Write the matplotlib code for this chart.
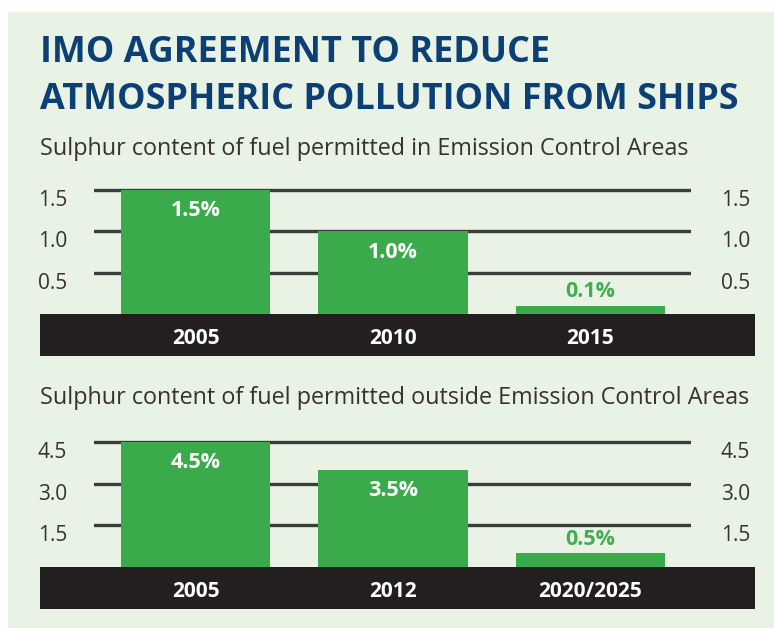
import matplotlib
matplotlib.use("Agg")
import matplotlib.pyplot as plt
from matplotlib.patches import Rectangle

# data
eca_years = ["2005", "2010", "2015"]
eca_values = [1.5, 1.0, 0.1]
eca_ticks = [0.5, 1.0, 1.5]

global_years = ["2005", "2012", "2020/2025"]
global_values = [4.5, 3.5, 0.5]
global_ticks = [1.5, 3.0, 4.5]

W, H = 774, 628
BG = "#e8f2e5"
GREEN = "#3aaa4a"
LABEL_GREEN = "#44ad4f"
DARK = "#231f20"
NAVY = "#0c3f73"
TEXT = "#3a302c"
GRID = "#3c3c3c"
FONT = ["Open Sans", "DejaVu Sans"]

plt.rcParams["font.family"] = FONT

fig = plt.figure(figsize=(W / 100, H / 100), dpi=100, facecolor="white")

# light green panel
fig.patches.append(Rectangle((8 / W, 0), 1 - 8 / W, 1 - 12 / H,
                             transform=fig.transFigure, facecolor=BG,
                             edgecolor="none", zorder=-2))


def px_axes(left, top, right, bottom):
    """axes from pixel box (top-left origin)"""
    return fig.add_axes([left / W, 1 - bottom / H, (right - left) / W, (bottom - top) / H])


def draw_panel(top, zero, full_px, vmax, years, values, ticks):
    ax = px_axes(94, top, 691, zero)
    ax.set_zorder(2)
    ymax = (zero - top) / (zero - full_px) * vmax
    x = range(len(years))
    ax.bar(x, values, width=0.755, color=GREEN, zorder=3)
    ax.set_xlim(-0.514, 2.509)
    ax.set_ylim(0, ymax)
    ax.set_facecolor("none")
    for s in ax.spines.values():
        s.set_visible(False)

    # gridlines + left labels
    tick_labels = [f"{t:.1f}" for t in ticks]
    ax.set_yticks(ticks, tick_labels)
    ax.yaxis.grid(True, color=GRID, linewidth=2.4)
    ax.set_axisbelow(True)
    ax.tick_params(axis="y", length=0, labelsize=15, colors=TEXT, pad=40.5)
    for lbl in ax.get_yticklabels():
        lbl.set_ha("left")
        lbl.set_va("top")

    # right labels
    sec = ax.secondary_yaxis("right")
    sec.set_yticks(ticks, tick_labels)
    sec.tick_params(length=0, labelsize=15, colors=TEXT, pad=21.5)
    sec.spines["right"].set_visible(False)
    for lbl in sec.get_yticklabels():
        lbl.set_va("top")

    # category labels sit in the dark band
    ax.set_xticks(list(x), years)
    ax.tick_params(axis="x", length=0, pad=17.5, labelsize=15, colors="white")
    for lbl in ax.get_xticklabels():
        lbl.set_fontweight("bold")
        lbl.set_va("center")

    fig.patches.append(Rectangle((40 / W, 1 - (zero + 42) / H), 715 / W, 42 / H,
                                 transform=fig.transFigure, facecolor=DARK,
                                 edgecolor="none", zorder=1))

    # value labels
    for xi, v in zip(x, values):
        if v / vmax > 0.3:
            ax.annotate(f"{v:.1f}%", (xi, v), xytext=(0, -15), textcoords="offset points",
                        ha="center", va="center", color="white", fontsize=15.5,
                        fontweight="bold", zorder=4)
        else:
            ax.annotate(f"{v:.1f}%", (xi, v), xytext=(0, 10), textcoords="offset points",
                        ha="center", va="center", color=LABEL_GREEN, fontsize=15.5,
                        fontweight="bold", zorder=4)
    return ax


# titles
fig.text(40 / W, 1 - 53 / H, "IMO AGREEMENT TO REDUCE", fontsize=25.8,
         fontweight="bold", color=NAVY, va="center", ha="left")
fig.text(40 / W, 1 - 100 / H, "ATMOSPHERIC POLLUTION FROM SHIPS", fontsize=25.8,
         fontweight="bold", color=NAVY, va="center", ha="left")
fig.text(40 / W, 1 - 149 / H, "Sulphur content of fuel permitted in Emission Control Areas",
         fontsize=16.8, color=TEXT, va="center", ha="left")
fig.text(40 / W, 1 - 398 / H, "Sulphur content of fuel permitted outside Emission Control Areas",
         fontsize=16.8, color=TEXT, va="center", ha="left")

draw_panel(184, 314, 190, 1.5, eca_years, eca_values, eca_ticks)
draw_panel(436, 567, 442, 4.5, global_years, global_values, global_ticks)

fig.savefig("out.png", dpi=100, facecolor="white")
